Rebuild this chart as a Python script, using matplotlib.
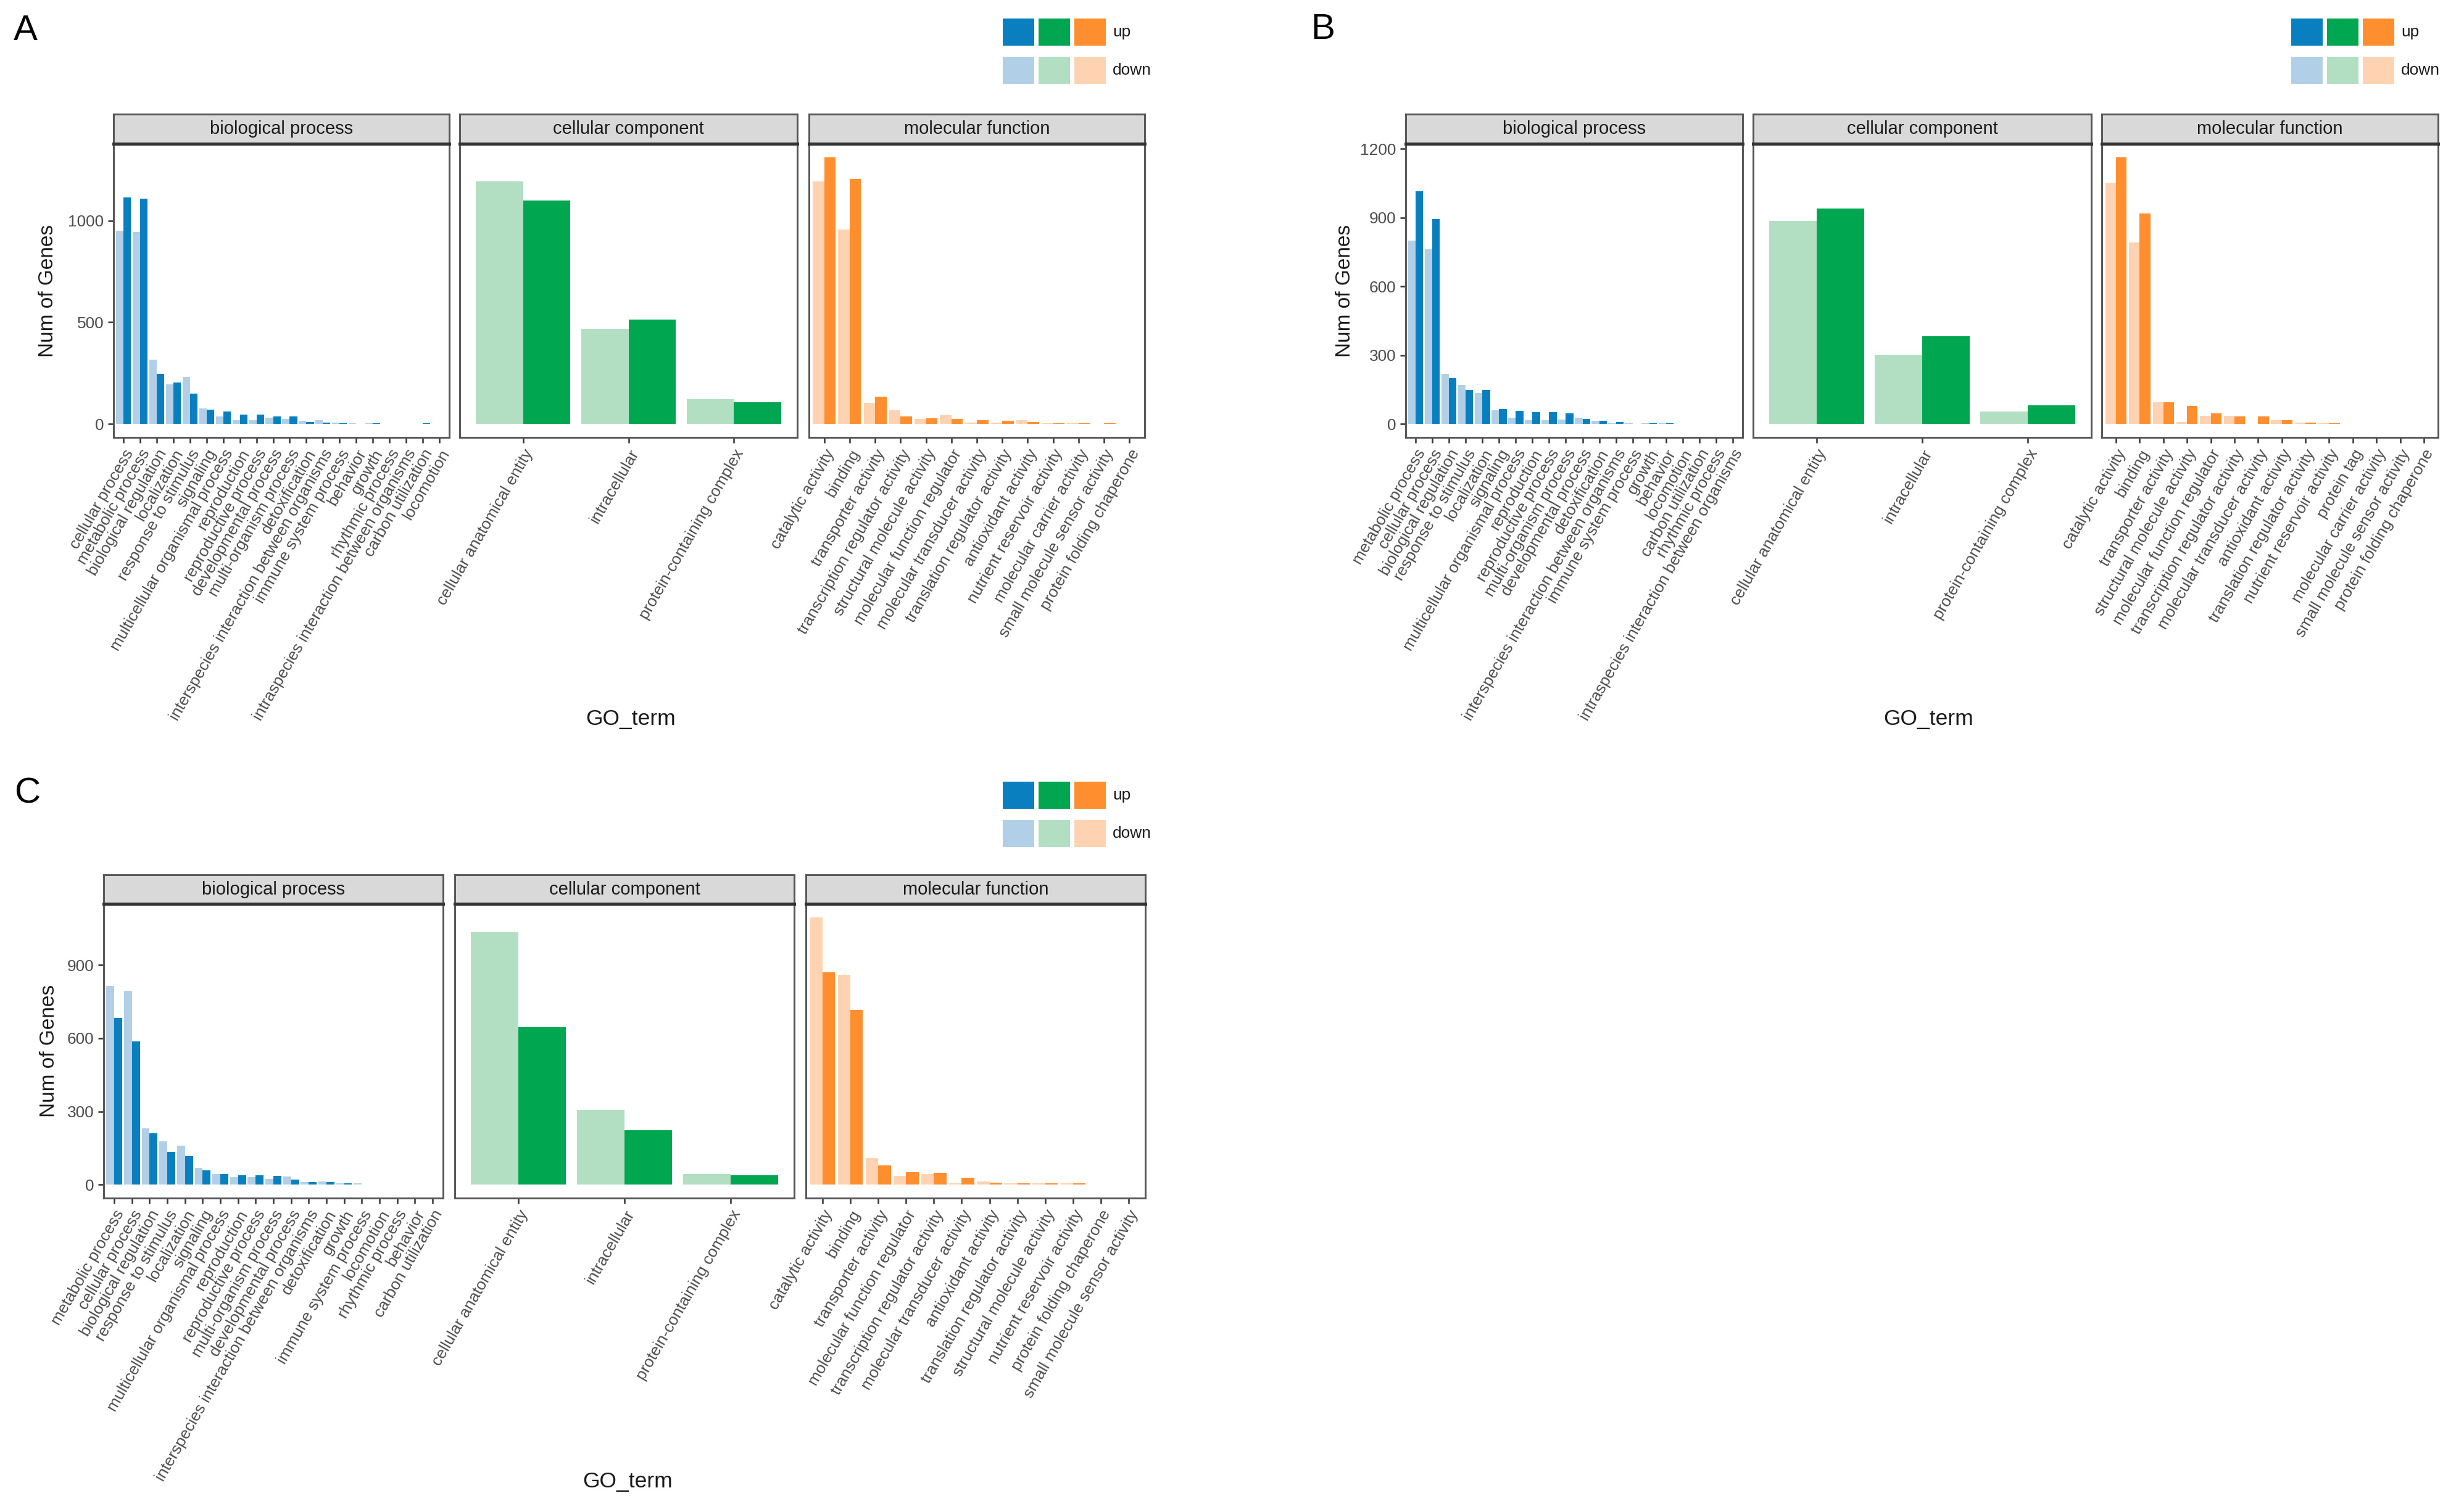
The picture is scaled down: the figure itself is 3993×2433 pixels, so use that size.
import matplotlib
matplotlib.use("Agg")
import matplotlib.pyplot as plt
from matplotlib.patches import Rectangle

plt.rcParams['font.family'] = ['Liberation Sans', 'DejaVu Sans']

# ---- panel A ----
a_bp_terms = ['cellular process', 'metabolic process', 'biological regulation', 'localization',
              'response to stimulus', 'signaling', 'multicellular organismal process', 'reproduction',
              'reproductive process', 'developmental process', 'multi-organism process', 'detoxification',
              'interspecies interaction between organisms', 'immune system process', 'behavior', 'growth',
              'rhythmic process', 'intraspecies interaction between organisms', 'carbon utilization', 'locomotion']
a_bp_down = [950, 945, 316, 195, 232, 76, 36, 19, 19, 31, 26, 16, 18, 7, 3, 4, 2, 2, 2, 1]
a_bp_up = [1115, 1109, 247, 203, 149, 70, 61, 47, 47, 38, 36, 10, 7, 3, 2, 4, 2, 2, 3, 1]

a_cc_terms = ['cellular anatomical entity', 'intracellular', 'protein-containing complex']
a_cc_down = [1192, 469, 123]
a_cc_up = [1100, 515, 108]

a_mf_terms = ['catalytic activity', 'binding', 'transporter activity', 'transcription regulator activity',
              'structural molecule activity', 'molecular function regulator', 'molecular transducer activity',
              'translation regulator activity', 'antioxidant activity', 'nutrient reservoir activity',
              'molecular carrier activity', 'small molecule sensor activity', 'protein folding chaperone']
a_mf_down = [1193, 955, 104, 68, 26, 44, 7, 7, 18, 5, 3, 2, 1]
a_mf_up = [1312, 1205, 135, 36, 29, 26, 19, 16, 10, 5, 3, 3, 1]

# ---- panel B ----
b_bp_terms = ['metabolic process', 'cellular process', 'biological regulation', 'response to stimulus',
              'localization', 'signaling', 'multicellular organismal process', 'reproduction',
              'reproductive process', 'multi-organism process', 'developmental process', 'detoxification',
              'interspecies interaction between organisms', 'immune system process', 'growth', 'behavior',
              'locomotion', 'carbon utilization', 'rhythmic process', 'intraspecies interaction between organisms']
b_bp_down = [800, 763, 218, 170, 135, 60, 28, 18, 18, 21, 27, 14, 5, 3, 3, 3, 2, 2, 2, 1]
b_bp_up = [1014, 894, 200, 150, 150, 66, 58, 51, 51, 46, 22, 14, 8, 1, 4, 4, 1, 2, 1, 1]

b_cc_terms = ['cellular anatomical entity', 'intracellular', 'protein-containing complex']
b_cc_down = [886, 303, 55]
b_cc_up = [941, 382, 82]

b_mf_terms = ['catalytic activity', 'binding', 'transporter activity', 'structural molecule activity',
              'molecular function regulator', 'transcription regulator activity', 'molecular transducer activity',
              'antioxidant activity', 'translation regulator activity', 'nutrient reservoir activity',
              'protein tag', 'molecular carrier activity', 'small molecule sensor activity',
              'protein folding chaperone']
b_mf_down = [1051, 793, 95, 10, 37, 37, 2, 16, 6, 4, 2, 2, 1, 1]
b_mf_up = [1164, 919, 95, 80, 47, 34, 33, 18, 7, 4, 1, 2, 2, 1]

# ---- panel C ----
c_bp_terms = ['metabolic process', 'cellular process', 'biological regulation', 'response to stimulus',
              'localization', 'signaling', 'multicellular organismal process', 'reproduction',
              'reproductive process', 'multi-organism process', 'developmental process',
              'interspecies interaction between organisms', 'detoxification', 'growth',
              'immune system process', 'locomotion', 'rhythmic process', 'behavior', 'carbon utilization']
c_bp_down = [815, 794, 232, 178, 159, 69, 44, 30, 30, 24, 33, 10, 13, 6, 6, 1, 1, 2, 2]
c_bp_up = [683, 587, 210, 135, 116, 58, 44, 38, 38, 35, 22, 10, 10, 7, 2, 2, 2, 1, 1]

c_cc_terms = ['cellular anatomical entity', 'intracellular', 'protein-containing complex']
c_cc_down = [1034, 306, 45]
c_cc_up = [645, 223, 38]

c_mf_terms = ['catalytic activity', 'binding', 'transporter activity', 'molecular function regulator',
              'transcription regulator activity', 'molecular transducer activity', 'antioxidant activity',
              'translation regulator activity', 'structural molecule activity', 'nutrient reservoir activity',
              'protein folding chaperone', 'small molecule sensor activity']
c_mf_down = [1096, 861, 109, 35, 43, 7, 13, 6, 7, 6, 2, 0]
c_mf_up = [870, 717, 78, 52, 48, 28, 9, 7, 7, 7, 0, 2]

facet_names = ['biological process', 'cellular component', 'molecular function']
up_colors = ['#0A7FC0', '#00A650', '#FF8E2E']
down_colors = ['#B1D0E8', '#B2DFC1', '#FFD3B1']
legend_labels = ['up', 'down']

W, H = 3993, 2433
fig = plt.figure(figsize=(W / 300, H / 300), dpi=300)


def box(x0, y0, x1, y1):
    return [x0 / W, 1 - y1 / H, (x1 - x0) / W, (y1 - y0) / H]


def draw_facet(ax, terms, down, up, k, ylim, yticks, first):
    n = len(terms)
    xs = list(range(n))
    w = 0.45
    ax.bar([x - w / 2 for x in xs], down, width=w, color=down_colors[k], linewidth=0)
    ax.bar([x + w / 2 for x in xs], up, width=w, color=up_colors[k], linewidth=0)
    ax.set_xlim(-0.6, n - 1 + 0.6)
    ax.set_ylim(*ylim)
    ax.set_xticks(xs)
    ax.set_xticklabels(terms, rotation=60, ha='right', va='top', rotation_mode='anchor',
                       fontsize=6.3, color='#4D4D4D')
    ax.tick_params(axis='x', length=2.2, width=0.6, color='#333333', pad=1.5)
    if first:
        ax.set_yticks(yticks)
        ax.set_yticklabels([str(t) for t in yticks], fontsize=6.3, color='#4D4D4D')
        ax.tick_params(axis='y', length=2.2, width=0.6, color='#333333', pad=1.5)
    else:
        ax.set_yticks([])
    for s in ax.spines.values():
        s.set_color('#555555')
        s.set_linewidth(0.7)


def draw_row(cols, strip_top, strip_bot, bottom, groups, yticks, letter, letter_xy,
             ylab_x, goterm_x, goterm_y, legend_x, legend_y):
    ymax = max(max(max(d), max(u)) for _, d, u in groups)
    ylim = (-0.05 * ymax, 1.05 * ymax)
    for k, ((x0, x1), (terms, down, up)) in enumerate(zip(cols, groups)):
        ax = fig.add_axes(box(x0, strip_bot, x1, bottom))
        draw_facet(ax, terms, down, up, k, ylim, yticks, k == 0)
        sax = fig.add_axes(box(x0, strip_top, x1, strip_bot))
        sax.set_facecolor('#D9D9D9')
        sax.set_xticks([])
        sax.set_yticks([])
        for s in sax.spines.values():
            s.set_color('#555555')
            s.set_linewidth(0.7)
        sax.spines['bottom'].set_color('#333333')
        sax.spines['bottom'].set_linewidth(1.2)
        sax.text(0.5, 0.5, facet_names[k], ha='center', va='center', fontsize=7.0,
                 color='#1A1A1A', transform=sax.transAxes)
    fig.text(letter_xy[0] / W, 1 - letter_xy[1] / H, letter, fontsize=14, ha='left', va='center')
    fig.text(ylab_x / W, 1 - ((strip_bot + bottom) / 2) / H, 'Num of Genes', rotation=90,
             fontsize=8.0, ha='center', va='center', color='#1A1A1A')
    fig.text(goterm_x / W, 1 - goterm_y / H, 'GO_term', fontsize=8.5, ha='center', va='center',
             color='#1A1A1A')
    # legend: up row on top, down row below
    bw, bh, gap = 51, 44, 7
    for r, (lab, cols_) in enumerate(zip(legend_labels, [up_colors, down_colors])):
        yy = legend_y + r * 62
        for i, c in enumerate(cols_):
            xx = legend_x + i * (bw + gap)
            fig.patches.append(Rectangle((xx / W, 1 - (yy + bh) / H), bw / W, bh / H,
                                         transform=fig.transFigure, facecolor=c,
                                         edgecolor='none', figure=fig))
        fig.text((legend_x + 3 * (bw + gap) + 4) / W, 1 - (yy + bh / 2) / H, lab,
                 fontsize=6.3, ha='left', va='center', color='#1A1A1A')


draw_row([(184, 728), (745, 1292), (1311, 1855)], 185, 233, 709,
         [(a_bp_terms, a_bp_down, a_bp_up), (a_cc_terms, a_cc_down, a_cc_up),
          (a_mf_terms, a_mf_down, a_mf_up)],
         [0, 500, 1000], 'A', (22, 50), 78, 1022, 1165, 1625, 30)

draw_row([(2278, 2824), (2841, 3389), (3406, 3951)], 185, 233, 709,
         [(b_bp_terms, b_bp_down, b_bp_up), (b_cc_terms, b_cc_down, b_cc_up),
          (b_mf_terms, b_mf_down, b_mf_up)],
         [0, 300, 600, 900, 1200], 'B', (2124, 48), 2180, 3125, 1165, 3713, 30)

draw_row([(168, 718), (737, 1287), (1306, 1856)], 1418, 1465, 1942,
         [(c_bp_terms, c_bp_down, c_bp_up), (c_cc_terms, c_cc_down, c_cc_up),
          (c_mf_terms, c_mf_down, c_mf_up)],
         [0, 300, 600, 900], 'C', (24, 1286), 80, 1017, 2402, 1625, 1267)

fig.savefig('out.png', dpi=300, facecolor='white')
